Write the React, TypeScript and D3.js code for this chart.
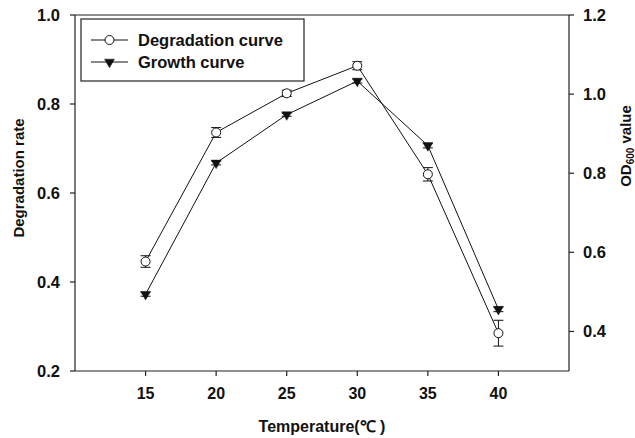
import React from "react";
import * as d3 from "d3";

const temperatures = [15, 20, 25, 30, 35, 40];
const degradation = [0.446, 0.736, 0.824, 0.886, 0.642, 0.285];
const degradationErr = [0.013, 0.011, 0.007, 0.009, 0.015, 0.029];
const growth = [0.494, 0.826, 0.948, 1.033, 0.870, 0.456];
const growthErr = [0.005, 0.005, 0.004, 0.005, 0.006, 0.006];
const xTicks = [15, 20, 25, 30, 35, 40];
const leftTicks = [0.2, 0.4, 0.6, 0.8, 1.0];
const rightTicks = [0.4, 0.6, 0.8, 1.0, 1.2];

const W = 635;
const H = 438;
const L = 75, R = 569, T = 15, B = 371;
const FONT = "'Liberation Sans', Arial, sans-serif";

export default function App() {
  const x = d3.scaleLinear().domain([10, 45]).range([L, R]);
  const yL = d3.scaleLinear().domain([0.2, 1.0]).range([B, T]);
  const yR = d3.scaleLinear().domain([0.3, 1.2]).range([B, T]);

  const lineL = d3
    .line<number>()
    .x((_, i) => x(temperatures[i]))
    .y((d) => yL(d));
  const lineR = d3
    .line<number>()
    .x((_, i) => x(temperatures[i]))
    .y((d) => yR(d));

  const tri = d3.symbol().type(d3.symbolTriangle).size(42)();
  const cap = 5;

  return (
    <svg width={W} height={H} style={{ position: "absolute", left: 0, top: 0, background: "#fff" }}>
      <rect x={0} y={0} width={W} height={H} fill="#fff" />
      {/* axes frame */}
      <line x1={L} y1={T} x2={L} y2={B} stroke="#222" strokeWidth={1.2} />
      <line x1={L} y1={B} x2={R} y2={B} stroke="#222" strokeWidth={1.2} />
      <line x1={R} y1={T} x2={R} y2={B} stroke="#222" strokeWidth={1.2} />
      <line x1={L} y1={T} x2={R} y2={T} stroke="#222" strokeWidth={1.2} />

      {/* left ticks */}
      {leftTicks.map((t) => (
        <g key={"l" + t}>
          <line x1={L - 5} x2={L} y1={yL(t)} y2={yL(t)} stroke="#222" strokeWidth={1.2} />
          <text x={L - 15} y={yL(t)} dy="0.36em" textAnchor="end" fontFamily={FONT} fontWeight="bold" fontSize={16.5} fill="#111">
            {t.toFixed(1)}
          </text>
        </g>
      ))}
      {/* right ticks */}
      {rightTicks.map((t) => (
        <g key={"r" + t}>
          <line x1={R} x2={R + 5} y1={yR(t)} y2={yR(t)} stroke="#222" strokeWidth={1.2} />
          <text x={R + 14} y={yR(t)} dy="0.36em" textAnchor="start" fontFamily={FONT} fontWeight="bold" fontSize={16.5} fill="#111">
            {t.toFixed(1)}
          </text>
        </g>
      ))}
      {/* x ticks */}
      {xTicks.map((t) => (
        <g key={"x" + t}>
          <line x1={x(t)} x2={x(t)} y1={B} y2={B + 5} stroke="#222" strokeWidth={1.2} />
          <text x={x(t)} y={399} textAnchor="middle" fontFamily={FONT} fontWeight="bold" fontSize={16} fill="#111">
            {t}
          </text>
        </g>
      ))}

      {/* axis titles */}
      <text x={322} y={432} textAnchor="middle" fontFamily={FONT} fontWeight="bold" fontSize={16} fill="#111">
        Temperature(℃ )
      </text>
      <text transform="translate(24,178) rotate(-90)" textAnchor="middle" fontFamily={FONT} fontWeight="bold" fontSize={15} fill="#111">
        Degradation rate
      </text>
      <text transform="translate(631,146) rotate(-90)" textAnchor="middle" fontFamily={FONT} fontWeight="bold" fontSize={15} fill="#111">
        OD<tspan fontSize={10} dy={3}>600</tspan>
        <tspan dy={-3}> value</tspan>
      </text>

      {/* lines */}
      <path d={lineL(degradation) || ""} fill="none" stroke="#111" strokeWidth={1} />
      <path d={lineR(growth) || ""} fill="none" stroke="#111" strokeWidth={1} />

      {/* error bars degradation */}
      {degradation.map((v, i) => {
        const cx = x(temperatures[i]);
        const y1 = yL(v + degradationErr[i]);
        const y2 = yL(v - degradationErr[i]);
        return (
          <g key={"ed" + i} stroke="#111" strokeWidth={1}>
            <line x1={cx} x2={cx} y1={y1} y2={y2} />
            <line x1={cx - cap} x2={cx + cap} y1={y1} y2={y1} />
            <line x1={cx - cap} x2={cx + cap} y1={y2} y2={y2} />
          </g>
        );
      })}
      {growth.map((v, i) => {
        const cx = x(temperatures[i]);
        const y1 = yR(v + growthErr[i]);
        const y2 = yR(v - growthErr[i]);
        return (
          <g key={"eg" + i} stroke="#111" strokeWidth={1}>
            <line x1={cx} x2={cx} y1={y1} y2={y2} />
            <line x1={cx - cap} x2={cx + cap} y1={y1} y2={y1} />
            <line x1={cx - cap} x2={cx + cap} y1={y2} y2={y2} />
          </g>
        );
      })}

      {/* markers */}
      {growth.map((v, i) => (
        <path key={"t" + i} d={tri || ""} transform={`translate(${x(temperatures[i])},${yR(v)}) rotate(180)`} fill="#111" stroke="#111" strokeWidth={0.5} />
      ))}
      {degradation.map((v, i) => (
        <circle key={"c" + i} cx={x(temperatures[i])} cy={yL(v)} r={4.5} fill="#fff" stroke="#111" strokeWidth={1} />
      ))}

      {/* legend */}
      <rect x={81} y={19} width={223} height={62} fill="#fff" stroke="#222" strokeWidth={1.2} />
      <line x1={91} x2={128} y1={40} y2={40} stroke="#111" strokeWidth={1} />
      <circle cx={109.5} cy={40} r={4.5} fill="#fff" stroke="#111" strokeWidth={1} />
      <text x={138} y={40} dy="0.36em" fontFamily={FONT} fontWeight="bold" fontSize={16.5} fill="#111">
        Degradation curve
      </text>
      <line x1={91} x2={128} y1={62} y2={62} stroke="#111" strokeWidth={1} />
      <path d={tri || ""} transform={`translate(109.5,62) rotate(180)`} fill="#111" stroke="#111" strokeWidth={0.5} />
      <text x={138} y={62} dy="0.36em" fontFamily={FONT} fontWeight="bold" fontSize={16.5} fill="#111">
        Growth curve
      </text>
    </svg>
  );
}
